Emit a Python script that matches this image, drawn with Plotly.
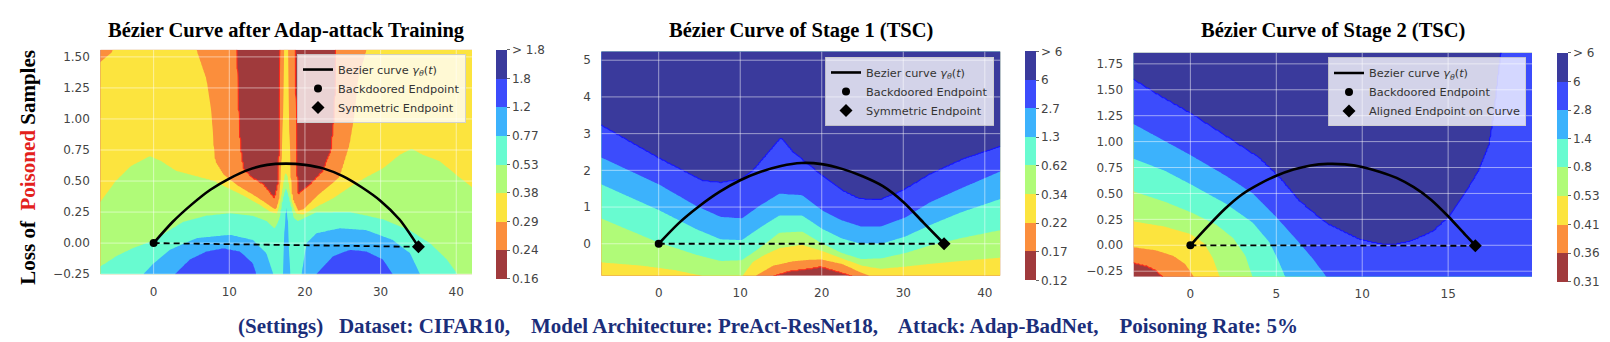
import numpy as np
import plotly.graph_objects as go

W, H = 1610, 342

# jet bands (alpha-blended on the seaborn background), low loss -> high loss
BAND_COLORS = ["#a03a3c", "#fb8e3c", "#fce43e", "#b0fb78",
               "#68fbd0", "#3cb2fc", "#3c4cfc", "#3a3a9c"]
NAVY_TEXT = "#1b2e7a"
TICK_TEXT = "#444444"

CURVE_NAME = "Bezier curve <i>γ</i><sub><i>θ</i></sub>(<i>t</i>)"
START_NAME = "Backdoored Endpoint"

# ---------------------------------------------------------------------------
# panel 1 - after Adap-attack training
# ---------------------------------------------------------------------------
P1_TITLE = "Bézier Curve after Adap-attack Training"
P1_XRANGE = [-7.05, 42.08]
P1_YRANGE = [-0.25, 1.557]
P1_XTICKS = [0, 10, 20, 30, 40]
P1_YTICKS = [-0.25, 0, 0.25, 0.5, 0.75, 1.0, 1.25, 1.5]
P1_YTICKTEXT = ["−0.25", "0.00", "0.25", "0.50", "0.75", "1.00", "1.25", "1.50"]
P1_CBAR = ["0.16", "0.24", "0.29", "0.38", "0.53", "0.77", "1.2", "1.8", "> 1.8"]
P1_CURVE_X = [0, 2.5, 5, 7.5, 10, 12.5, 15, 17.5, 20, 22.5, 25, 27.5, 30, 32.5, 35]
P1_CURVE_Y = [0.0, 0.17, 0.31, 0.43, 0.52, 0.59, 0.63, 0.64, 0.63, 0.60, 0.54, 0.45, 0.34, 0.19, -0.03]
P1_ENDS_X = [0, 35]
P1_ENDS_Y = [0.0, -0.03]
P1_END_NAME = "Symmetric Endpoint"
# band borders k-1 | k (k = 1..7), given as y over x
P1_B1 = ([-7.05, 10.7, 10.95, 11.2, 11.4, 11.8, 12.9, 14.5, 15.8, 16.0, 16.45, 16.67, 16.75, 16.85,
          18.6, 18.7, 18.8, 18.95, 19.1, 20.7, 22.4, 23.5, 23.97, 24.1, 24.3, 42.08],
         [1.8, 1.8, 1.557, 1.05, 0.79, 0.6, 0.53, 0.47, 0.37, 0.355, 0.47, 0.79, 1.557, 1.8,
          1.8, 1.557, 0.8, 0.45, 0.39, 0.47, 0.58, 0.75, 1.05, 1.557, 1.8, 1.8])
P1_B2 = ([-7.05, -5.5, -5.0, 5.4, 5.7, 7.0, 7.65, 7.9, 8.1, 9.2, 10.9, 13.1, 14.9, 15.8, 16.2, 16.6,
          16.9, 17.1, 17.25, 17.75, 17.9, 18.0, 18.3, 19.1, 19.8, 21.8, 24.6, 25.9, 26.6, 27.0, 28.1,
          28.4, 42.08],
         [1.46, 1.54, 1.7, 1.7, 1.557, 1.32, 1.05, 0.79, 0.66, 0.55, 0.47, 0.39, 0.32, 0.28, 0.27, 0.35,
          0.6, 1.0, 1.7, 1.7, 1.0, 0.6, 0.36, 0.26, 0.27, 0.39, 0.53, 0.79, 1.05, 1.32, 1.557,
          1.7, 1.7])
P1_B3 = ([-7.05, -5.0, -3.0, -0.5, 1.0, 3.0, 5.5, 8.0, 10.0, 12.0, 14.0, 15.5, 16.3, 16.8, 17.5, 18.2,
          18.8, 19.8, 21.8, 23.7, 25.9, 28.1, 30.3, 32.5, 34.1, 35.6, 37.8, 40.0, 42.08],
         [0.33, 0.50, 0.62, 0.70, 0.66, 0.58, 0.54, 0.50, 0.44, 0.38, 0.31, 0.25, 0.24, 0.35, 0.58, 0.35,
          0.24, 0.23, 0.30, 0.36, 0.45, 0.53, 0.60, 0.71, 0.76, 0.71, 0.66, 0.55, 0.45])
P1_B4 = ([-7.05, -4.9, -2.7, 0.04, 2.15, 3.9, 7.0, 10.1, 13.1, 14.9, 16.0, 16.6, 17.0, 17.5, 18.0,
          18.6, 19.1, 21.5, 25.9, 30.3, 33.9, 36.5, 38.7, 40.0, 40.4, 42.08],
         [-0.19, -0.105, -0.04, 0.02, 0.105, 0.17, 0.22, 0.24, 0.22, 0.18, 0.12, 0.2, 0.35, 0.45, 0.35,
          0.2, 0.18, 0.25, 0.25, 0.19, 0.10, 0.0, -0.13, -0.24, -0.32, -0.32])
P1_B5 = ([-7.05, -1.7, -1.36, 0.04, 2.15, 5.7, 10.1, 13.1, 14.9, 15.8, 16.1, 16.9, 17.1, 17.3, 17.55,
          17.8, 18.0, 18.2, 19.3, 19.57, 20.2, 21.5, 24.6, 28.1, 31.6, 33.9, 35.2, 35.5, 42.08],
         [-0.38, -0.38, -0.25, -0.16, -0.053, 0.04, 0.066, 0.026, -0.08, -0.25, -0.38, -0.38, -0.25, 0.15,
          0.32, 0.15, -0.25, -0.38, -0.38, -0.25, 0.0, 0.08, 0.12, 0.105, 0.026, -0.08, -0.25, -0.38, -0.38])
P1_B6 = ([-7.05, 2.5, 2.8, 4.8, 7.0, 9.2, 11.4, 13.1, 13.6, 13.9, 21.2, 21.5, 23.7, 25.9, 28.1, 30.3,
          31.6, 31.9, 42.08],
         [-0.45, -0.45, -0.25, -0.13, -0.066, -0.04, -0.066, -0.16, -0.25, -0.45, -0.45, -0.25, -0.105,
          -0.053, -0.066, -0.13, -0.25, -0.45, -0.45])
P1_B7 = ([-7.05, 42.08], [-0.6, -0.6])

# ---------------------------------------------------------------------------
# panel 2 - stage 1 (TSC)
# ---------------------------------------------------------------------------
P2_TITLE = "Bézier Curve of Stage 1 (TSC)"
P2_XRANGE = [-7.04, 41.9]
P2_YRANGE = [-0.87, 5.24]
P2_XTICKS = [0, 10, 20, 30, 40]
P2_YTICKS = [0, 1, 2, 3, 4, 5]
P2_YTICKTEXT = ["0", "1", "2", "3", "4", "5"]
P2_CBAR = ["0.12", "0.17", "0.22", "0.34", "0.62", "1.3", "2.7", "6", "> 6"]
P2_CURVE_X = [0, 2.5, 5, 7.5, 10, 12.5, 15, 17.5, 20, 22.5, 25, 27.5, 30, 32.5, 35]
P2_CURVE_Y = [0.0, 0.57, 1.03, 1.42, 1.73, 1.96, 2.12, 2.20, 2.17, 2.04, 1.84, 1.57, 1.14, 0.57, 0.0]
P2_ENDS_X = [0, 35]
P2_ENDS_Y = [0.0, 0.0]
P2_END_NAME = "Symmetric Endpoint"
P2_B1 = ([-7.04, 13.6, 14.0, 16.0, 18.5, 19.9, 21.8, 23.8, 24.2, 41.9],
         [-1.3, -1.3, -0.87, -0.74, -0.67, -0.62, -0.74, -0.87, -1.3, -1.3])
P2_B2 = ([-7.04, 11.5, 11.9, 14.0, 16.5, 18.5, 20.0, 22.5, 24.5, 25.9, 26.3, 41.9],
         [-1.2, -1.2, -0.87, -0.6, -0.48, -0.44, -0.43, -0.55, -0.75, -0.87, -1.2, -1.2])
P2_B3 = ([-7.04, -2.0, 2.0, 5.0, 7.5, 10.2, 11.5, 13.0, 14.8, 17.6, 20.1, 22.5, 25.0, 27.3, 30.3,
          33.2, 37.0, 41.9],
         [-0.51, -0.6, -0.72, -0.86, -0.95, -0.9, -0.5, -0.3, -0.12, -0.03, -0.2, -0.4, -0.6, -0.68,
          -0.62, -0.55, -0.47, -0.38])
P2_B4 = ([-7.04, 0, 4.6, 7.6, 10.2, 12.5, 14.8, 17.6, 20.1, 22.4, 24.8, 27.3, 30.3, 33.2, 37.0, 41.9],
         [0.69, 0.03, -0.3, -0.47, -0.45, -0.1, 0.3, 0.33, 0.0, -0.25, -0.42, -0.4, -0.25, -0.05, 0.15, 0.37])
P2_B5 = ([-7.04, 0, 4.6, 7.6, 10.2, 12.5, 14.8, 17.6, 20.1, 22.4, 24.8, 27.3, 30.3, 33.2, 37.0, 41.9],
         [1.62, 0.92, 0.4, 0.12, 0.1, 0.45, 0.77, 0.77, 0.4, 0.15, 0.0, 0.0, 0.2, 0.5, 0.85, 1.22])
P2_B6 = ([-7.04, 0, 4.6, 7.6, 10.2, 12.5, 14.8, 17.6, 20.1, 22.4, 24.8, 27.3, 30.3, 33.2, 37.0, 41.9],
         [2.35, 1.62, 1.03, 0.73, 0.69, 1.05, 1.36, 1.32, 0.9, 0.64, 0.47, 0.47, 0.72, 1.12, 1.5, 1.97])
P2_B7 = ([-7.04, 0, 5.4, 7.65, 10.0, 11.5, 15.0, 16.4, 18.1, 20.1, 22.6, 24.6, 27.1, 29.9, 33.2,
          37.3, 41.9],
         [3.22, 2.33, 1.71, 1.66, 1.75, 1.97, 2.88, 2.51, 2.2, 1.84, 1.44, 1.22, 1.19, 1.44, 1.88,
          2.3, 2.64])

# ---------------------------------------------------------------------------
# panel 3 - stage 2 (TSC)
# ---------------------------------------------------------------------------
P3_TITLE = "Bézier Curve of Stage 2 (TSC)"
P3_XRANGE = [-3.31, 19.88]
P3_YRANGE = [-0.303, 1.857]
P3_XTICKS = [0, 5, 10, 15]
P3_YTICKS = [-0.25, 0, 0.25, 0.5, 0.75, 1.0, 1.25, 1.5, 1.75]
P3_YTICKTEXT = ["−0.25", "0.00", "0.25", "0.50", "0.75", "1.00", "1.25", "1.50", "1.75"]
P3_CBAR = ["0.31", "0.36", "0.41", "0.53", "0.8", "1.4", "2.8", "6", "> 6"]
P3_CURVE_X = [0, 1, 2, 3, 4, 5, 6, 7, 8, 9, 10, 11, 12, 13, 14, 15, 16, 16.58]
P3_CURVE_Y = [0.0, 0.18, 0.35, 0.49, 0.59, 0.67, 0.73, 0.77, 0.785, 0.78, 0.755, 0.71, 0.65, 0.56,
              0.44, 0.28, 0.10, 0.0]
P3_ENDS_X = [0, 16.58]
P3_ENDS_Y = [0.0, -0.005]
P3_END_NAME = "Aligned Endpoint on Curve"
P3_B1 = ([-3.31, -2.5, -2.0, -1.6, -1.2, 19.88], [-0.165, -0.2, -0.24, -0.303, -0.7, -0.7])
P3_B2 = ([-3.31, -2.0, -1.0, -0.3, 0.2, 0.6, 19.88], [-0.02, -0.05, -0.1, -0.18, -0.303, -0.6, -0.6])
P3_B3 = ([-3.31, -1.5, 0.0, 0.8, 1.3, 1.7, 2.1, 19.88], [0.23, 0.18, 0.11, 0.02, -0.12, -0.303, -0.5, -0.5])
P3_B4 = ([-3.31, -1.5, 0.0, 1.5, 2.5, 3.2, 3.6, 4.0, 19.88],
         [0.52, 0.42, 0.32, 0.2, 0.07, -0.1, -0.303, -0.45, -0.45])
P3_B5 = ([-3.31, -1.5, 0.0, 2.07, 3.63, 4.6, 5.1, 5.5, 5.9, 19.88],
         [0.835, 0.72, 0.59, 0.40, 0.22, 0.03, -0.14, -0.303, -0.4, -0.4])
P3_B6 = ([-3.31, 0.0, 2.07, 3.63, 4.98, 6.34, 7.12, 7.9, 8.3, 19.88],
         [1.17, 0.87, 0.67, 0.50, 0.275, 0.024, -0.13, -0.303, -0.35, -0.35])
P3_B7 = ([-3.31, -1.8, 0.0, 2.07, 4.0, 5.2, 6.3, 7.9, 9.8, 11.0, 11.8, 12.9, 14.1, 15.1, 16.0, 16.8,
          17.4, 17.7, 17.9, 18.1, 18.3, 19.88],
         [1.596, 1.44, 1.27, 1.05, 0.84, 0.65, 0.43, 0.21, 0.055, 0.01, 0.0, 0.04, 0.13, 0.28, 0.5, 0.72,
          0.97, 1.28, 1.6, 1.86, 2.1, 2.1])


def _step_scale(colors):
    n = len(colors)
    scale = []
    for i, c in enumerate(colors):
        scale.append([i / n, c])
        scale.append([(i + 1) / n, c])
    return scale


STEP_SCALE = _step_scale(BAND_COLORS)


def _level_field(xr, yr, bounds, rising, nx=300, ny=230):
    """Band index field: borders k-1|k sit at level k, linear in between."""
    xf = np.linspace(xr[0], xr[1], nx)
    yf = np.linspace(yr[0], yr[1], ny)
    pos = np.array([np.interp(xf, bx, by) for bx, by in bounds])
    levels = np.arange(1, len(bounds) + 1, dtype=float)
    if not rising:
        pos, levels = pos[::-1].copy(), levels[::-1].copy()
    for i in range(1, len(pos)):
        pos[i] = np.maximum(pos[i], pos[i - 1] + 1e-3)
    step = 0.5 if rising else -0.5
    z = np.empty((ny, nx))
    for j in range(nx):
        yp = np.concatenate([[pos[0, j] - 10], pos[:, j], [pos[-1, j] + 10]])
        zp = np.concatenate([[levels[0] - step], levels, [levels[-1] + step]])
        z[:, j] = np.interp(yf, yp, zp)
    return xf, yf, np.round(z, 3)


PANELS = [
    dict(title=P1_TITLE, xr=P1_XRANGE, yr=P1_YRANGE, xt=P1_XTICKS, yt=P1_YTICKS, ytt=P1_YTICKTEXT,
         cbar=P1_CBAR, cx=P1_CURVE_X, cy=P1_CURVE_Y, ex=P1_ENDS_X, ey=P1_ENDS_Y, end=P1_END_NAME,
         bounds=[P1_B1, P1_B2, P1_B3, P1_B4, P1_B5, P1_B6, P1_B7], rising=False,
         lines=[(1, "#ff2a1a")],
         box=(92.3, 464.0, 42.7, 271.7), cb_x=487.7, leg=(458, 47)),
    dict(title=P2_TITLE, xr=P2_XRANGE, yr=P2_YRANGE, xt=P2_XTICKS, yt=P2_YTICKS, ytt=P2_YTICKTEXT,
         cbar=P2_CBAR, cx=P2_CURVE_X, cy=P2_CURVE_Y, ex=P2_ENDS_X, ey=P2_ENDS_Y, end=P2_END_NAME,
         bounds=[P2_B1, P2_B2, P2_B3, P2_B4, P2_B5, P2_B6, P2_B7], rising=True,
         lines=[(7, "#1414ff"), (1, "#ff2a1a")],
         box=(593.3, 992.3, 44.3, 273.3), cb_x=1017.3, leg=(986, 50)),
    dict(title=P3_TITLE, xr=P3_XRANGE, yr=P3_YRANGE, xt=P3_XTICKS, yt=P3_YTICKS, ytt=P3_YTICKTEXT,
         cbar=P3_CBAR, cx=P3_CURVE_X, cy=P3_CURVE_Y, ex=P3_ENDS_X, ey=P3_ENDS_Y, end=P3_END_NAME,
         bounds=[P3_B1, P3_B2, P3_B3, P3_B4, P3_B5, P3_B6, P3_B7], rising=True,
         lines=[(7, "#1414ff"), (1, "#ff2a1a")],
         box=(1125.5, 1524.0, 45.7, 274.3), cb_x=1549.3, leg=(1518, 50.5)),
]

fig = go.Figure()
layout = {}
tick_font = dict(family="DejaVu Sans", size=12, color=TICK_TEXT)

for i, p in enumerate(PANELS, start=1):
    sfx = "" if i == 1 else str(i)
    xa, ya = "x" + sfx, "y" + sfx
    leg = "legend" + sfx
    x0, x1, top, bot = p["box"]

    xf, yf, z = _level_field(p["xr"], p["yr"], p["bounds"], p["rising"])
    fig.add_trace(go.Contour(
        x=xf, y=yf, z=z, xaxis=xa, yaxis=ya, autocontour=False,
        contours=dict(start=1, end=7, size=1, coloring="fill", showlines=False),
        colorscale=STEP_SCALE, line=dict(width=0), showscale=False,
        hoverinfo="skip", showlegend=False,
    ))
    for lvl, col in p["lines"]:
        fig.add_trace(go.Contour(
            x=xf, y=yf, z=z, xaxis=xa, yaxis=ya, autocontour=False,
            contours=dict(start=lvl, end=lvl, size=1, coloring="none"),
            line=dict(color=col, width=1.1), showscale=False,
            hoverinfo="skip", showlegend=False,
        ))

    # grid on top of the filled bands
    gx, gy = [], []
    for t in p["xt"]:
        gx += [t, t, None]
        gy += [p["yr"][0], p["yr"][1], None]
    for t in p["yt"]:
        gx += [p["xr"][0], p["xr"][1], None]
        gy += [t, t, None]
    fig.add_trace(go.Scatter(
        x=gx, y=gy, mode="lines", xaxis=xa, yaxis=ya,
        line=dict(color="rgba(255,255,255,0.5)", width=1),
        hoverinfo="skip", showlegend=False,
    ))

    # colour bar
    fig.add_trace(go.Scatter(
        x=[None], y=[None], mode="markers", xaxis=xa, yaxis=ya, showlegend=False,
        marker=dict(color=[0], cmin=0, cmax=8, colorscale=STEP_SCALE, showscale=True,
                    colorbar=dict(
                        x=p["cb_x"] / W, xanchor="left", xpad=0, ypad=0,
                        y=1 - top / H, yanchor="top", len=bot - top, lenmode="pixels",
                        thickness=11, thicknessmode="pixels", outlinewidth=0,
                        tickvals=list(range(9)), ticktext=p["cbar"],
                        ticks="outside", ticklen=3, tickcolor="#666666",
                        tickfont=tick_font)),
        hoverinfo="skip",
    ))

    fig.add_trace(go.Scatter(
        x=p["ex"], y=p["ey"], mode="lines", xaxis=xa, yaxis=ya,
        line=dict(color="black", width=1.8, dash="6px,4px"),
        hoverinfo="skip", showlegend=False,
    ))
    fig.add_trace(go.Scatter(
        x=p["cx"], y=p["cy"], mode="lines", xaxis=xa, yaxis=ya, name=CURVE_NAME,
        line=dict(color="black", width=2.6, shape="spline", smoothing=0.8), legend=leg,
    ))
    fig.add_trace(go.Scatter(
        x=p["ex"][:1], y=p["ey"][:1], mode="markers", xaxis=xa, yaxis=ya, name=START_NAME,
        marker=dict(color="black", size=8, symbol="circle"), legend=leg,
    ))
    fig.add_trace(go.Scatter(
        x=p["ex"][1:], y=p["ey"][1:], mode="markers", xaxis=xa, yaxis=ya, name=p["end"],
        marker=dict(color="black", size=10, symbol="diamond"), legend=leg,
    ))

    layout["xaxis" + sfx] = dict(
        domain=[x0 / W, x1 / W], range=p["xr"], anchor=ya, showgrid=False, zeroline=False,
        showline=False, tickvals=p["xt"], ticks="outside", ticklen=6,
        tickcolor="rgba(0,0,0,0)", tickfont=tick_font,
    )
    layout["yaxis" + sfx] = dict(
        domain=[1 - bot / H, 1 - top / H], range=p["yr"], anchor=xa, showgrid=False,
        zeroline=False, showline=False, tickvals=p["yt"], ticktext=p["ytt"],
        ticks="outside", ticklen=7, tickcolor="rgba(0,0,0,0)", tickfont=tick_font,
    )
    layout[leg] = dict(
        x=p["leg"][0] / W, xanchor="right", y=1 - p["leg"][1] / H, yanchor="top",
        bgcolor="rgba(255,255,255,0.78)", bordercolor="rgba(205,205,205,0.9)", borderwidth=1,
        font=dict(family="DejaVu Sans", size=11.3, color="#333333"),
        itemwidth=30, tracegroupgap=0,
    )
    fig.add_annotation(
        text="<b>" + p["title"] + "</b>", x=(x0 + x1) / 2 / W, y=1 - 23 / H,
        xref="paper", yref="paper", showarrow=False, xanchor="center", yanchor="middle",
        font=dict(family="Liberation Serif", size=20.5, color="black"),
    )

fig.add_annotation(
    text="<b>Loss of&nbsp; <span style='color:#e3201b'>Poisoned</span> Samples</b>",
    textangle=-90, x=20 / W, y=1 - 163 / H, xref="paper", yref="paper", showarrow=False,
    xanchor="center", yanchor="middle",
    font=dict(family="Liberation Serif", size=21, color="black"),
)
fig.add_annotation(
    text=("<b>(Settings)&nbsp;&nbsp; Dataset: CIFAR10,&nbsp;&nbsp;&nbsp; Model Architecture: "
          "PreAct-ResNet18,&nbsp;&nbsp;&nbsp; Attack: Adap-BadNet,&nbsp;&nbsp;&nbsp; "
          "Poisoning Rate: 5%</b>"),
    x=759.5 / W, y=1 - 325 / H, xref="paper", yref="paper", showarrow=False,
    xanchor="center", yanchor="middle",
    font=dict(family="Liberation Serif", size=21, color=NAVY_TEXT),
)

fig.update_layout(
    **layout,
    width=W, height=H, margin=dict(l=0, r=0, t=0, b=0),
    paper_bgcolor="white", plot_bgcolor="#eaeaf2",
    font=dict(family="DejaVu Sans", color="#333333"),
)

fig.write_html("out.html")
